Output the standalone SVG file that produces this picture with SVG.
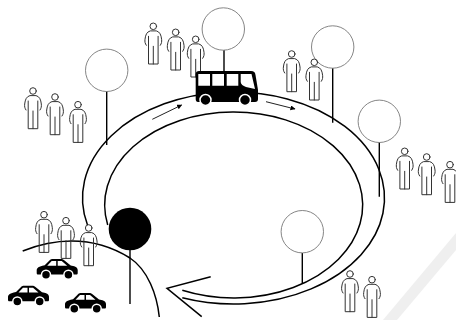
<svg xmlns="http://www.w3.org/2000/svg" width="456" height="320" viewBox="0 0 456 320">
<style>
.p{fill:none;stroke:#333;stroke-width:1;stroke-linejoin:round;stroke-linecap:round}
.r{fill:none;stroke:#000;stroke-width:1.5;stroke-linecap:butt}
.t{fill:#fff;stroke:#777;stroke-width:.9}
.s{stroke:#000;stroke-width:1.4}
.w{fill:#fff}
</style>
<defs>
<marker id="a" markerWidth="6" markerHeight="6" refX="4.5" refY="2.5" orient="auto" markerUnits="userSpaceOnUse"><path d="M0 0L5 2.5L0 5z" fill="#000"/></marker>
<g id="person">
<circle class="p" cx="0" cy="0" r="3.300"/>
<path class="p" d="M-4.800 10V37.700H4.800V10M0 20V37.700M-7 19C-8.300 17-8.600 15.500-8.300 13C-7.800 8.500-6.500 5.500-3 4.600H3C6.500 5.500 7.800 8.500 8.300 13C8.600 15.500 8.300 17 7 19"/>
</g>
<g id="car">
<path d="M.5 9.500C1.500 7.800 5 7 8 6.300L13.500 .8C14 .3 15 0 16 0H24C25.500 0 26.500 .5 27.500 1.200L34 6.500C37 7 41 7.800 41 11V14C41 15 40.500 15.500 39.500 15.500H1.500C.5 15.500 0 15 0 14V11C0 10.300 .2 10 .5 9.500Z" fill="#000"/>
<path class="w" d="M10.500 6.800L15 2H19.500V6.800ZM21 2H25L30.500 6.800H21Z"/>
<circle cx="9.300" cy="15.700" r="4.500" fill="#000" stroke="#fff" stroke-width="1.500"/>
<circle cx="31.700" cy="15.700" r="4.500" fill="#000" stroke="#fff" stroke-width="1.500"/>
</g>
</defs>
<rect width="456" height="320" fill="#fff"/>
<path d="M456 233V250L397 320H383Z" fill="#efefef"/>
<g id="connectors">
<path class="r" d="M87.500 225A151 106 0 1 1 182.300 297.700"/>
<path class="r" d="M107.700 225A129 93 0 1 1 182.300 290.300"/>
<path class="r" d="M210.700 276.700L167 288.300L201.700 316.700"/>
<path class="r" d="M22.700 251C50 240 90 233 130 258C148 270 157 295 159.300 317"/>
<path fill="none" stroke="#222" stroke-width="1" marker-end="url(#a)" d="M152.300 119.300L181.700 105"/>
<path fill="none" stroke="#222" stroke-width="1" marker-end="url(#a)" d="M266 101.700L295 109"/>
</g>
<g id="tree-left"><line class="s" x1="106.700" y1="91" x2="106.700" y2="145"/><circle class="t" cx="106.700" cy="70.300" r="21.200"/></g>
<g id="tree-top"><line class="s" x1="224" y1="50" x2="224" y2="75"/><circle class="t" cx="223.300" cy="29" r="21.200"/></g>
<g id="tree-right1"><line class="s" x1="332.700" y1="68" x2="332.700" y2="122.700"/><circle class="t" cx="332.700" cy="47" r="21.200"/></g>
<g id="tree-right2"><line class="s" x1="379.300" y1="142" x2="379.300" y2="196.700"/><circle class="t" cx="379.300" cy="121.300" r="21.200"/></g>
<g id="tree-bottom"><line class="s" x1="302.300" y1="252" x2="302.300" y2="283.300"/><circle class="t" cx="302.300" cy="231.700" r="21.200"/></g>
<g id="tree-black"><line class="s" x1="130" y1="249" x2="130" y2="304"/><circle cx="130" cy="229" r="21.300" fill="#000"/></g>
<g id="people">
<use href="#person" x="33" y="91"/><use href="#person" x="55" y="97"/><use href="#person" x="78" y="104.700"/>
<use href="#person" x="153.300" y="26.300"/><use href="#person" x="175.700" y="32.300"/><use href="#person" x="195.700" y="39.300"/>
<use href="#person" x="291.700" y="54"/><use href="#person" x="314.300" y="62.300"/>
<use href="#person" x="404.700" y="151.300"/><use href="#person" x="426.700" y="157"/><use href="#person" x="450" y="164.700"/>
<use href="#person" x="350" y="274"/><use href="#person" x="372" y="279.700"/>
<use href="#person" x="44" y="214.700"/><use href="#person" x="66" y="220.700"/><use href="#person" x="88.700" y="228"/>
</g>
<g id="bus">
<path d="M199 71H251C254 71 255 72 255.500 75L258 90V99C258 101 257 102 255 102H198C196.500 102 195.700 101 195.700 99V74C195.700 72 197 71 199 71Z" fill="#000"/>
<path class="w" d="M198.300 74H210V85.700H198.300ZM212.300 74H224V85.700H212.300ZM226.700 74H238.300V85.700H226.700ZM240.700 74H251.500L255 89L246 87C243 86 240.700 84 240.700 82Z"/>
<circle cx="205.500" cy="100" r="5.500" fill="#000" stroke="#fff" stroke-width="1.500"/>
<circle cx="245" cy="100" r="5.500" fill="#000" stroke="#fff" stroke-width="1.500"/>
</g>
<g id="cars">
<use href="#car" x="36.700" y="259"/><use href="#car" x="8" y="285.700"/><use href="#car" x="65" y="293"/>
</g>
</svg>
